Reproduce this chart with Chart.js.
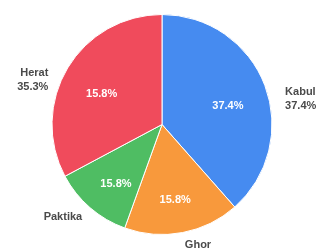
<!DOCTYPE html>
<html>
<head>
<meta charset="utf-8">
<script src="https://cdn.jsdelivr.net/npm/chart.js@4.4.0/dist/chart.umd.min.js"></script>
<style>
  html, body { margin: 0; padding: 0; background: #fff; }
</style>
</head>
<body>
<canvas id="pie-chart" width="322" height="249"></canvas>
<script>
const provinces = ["Kabul", "Ghor", "Paktika", "Herat"];
const shares = [38.5, 17.0, 11.7, 32.8];
const innerLabels = ["37.4%", "15.8%", "15.8%", "15.8%"];
const outerLabels = [["Kabul", "37.4%"], ["Ghor"], ["Paktika"], ["Herat", "35.3%"]];
const sliceColors = ["#468bf0", "#f8993c", "#4fbd63", "#f04b5c"];

const labelFont = "bold 11px 'Liberation Sans', Arial, sans-serif";

const sliceLabels = {
  id: "sliceLabels",
  afterDatasetsDraw(chart) {
    const ctx = chart.ctx;
    const arcs = chart.getDatasetMeta(0).data;
    ctx.save();
    ctx.font = labelFont;
    ctx.textBaseline = "middle";
    arcs.forEach((arc, i) => {
      const { x, y, startAngle, endAngle, outerRadius } = arc.getProps(
        ["x", "y", "startAngle", "endAngle", "outerRadius"], true);
      const mid = (startAngle + endAngle) / 2;
      const cos = Math.cos(mid);
      const sin = Math.sin(mid);

      // percentage inside the slice
      ctx.fillStyle = "#ffffff";
      ctx.textAlign = "center";
      ctx.fillText(innerLabels[i], x + cos * outerRadius * 0.64, y + sin * outerRadius * 0.64 + 6);

      // name outside the slice
      const lines = outerLabels[i];
      let ox = x + cos * (outerRadius + 12);
      const oy = y + sin * (outerRadius + 12);
      ctx.fillStyle = "#4a4a4a";
      ctx.textAlign = cos > 0 ? "left" : "right";
      const lineHeight = 14;
      let top = oy;
      if (sin < 0) {
        top = oy + 11;
        ox += cos > 0 ? 9 : -9;
      } else if (sin > 0.8) {
        top = oy + 1;
      }
      lines.forEach((line, j) => {
        ctx.fillText(line, ox, top + j * lineHeight);
      });
    });
    ctx.restore();
  },
};

const chartElement = document.getElementById("pie-chart").getContext("2d");
const pieChart = new Chart(chartElement, {
  type: "pie",
  data: {
    labels: provinces,
    datasets: [
      {
        data: shares,
        backgroundColor: sliceColors,
        borderColor: "#ffffff",
        borderWidth: 1,
        hoverOffset: 0,
      },
    ],
  },
  options: {
    responsive: false,
    animation: false,
    layout: {
      padding: { top: 14, bottom: 14, left: 2 },
    },
    plugins: {
      legend: { display: false },
      tooltip: { enabled: false },
    },
  },
  plugins: [sliceLabels],
});
</script>
</body>
</html>
